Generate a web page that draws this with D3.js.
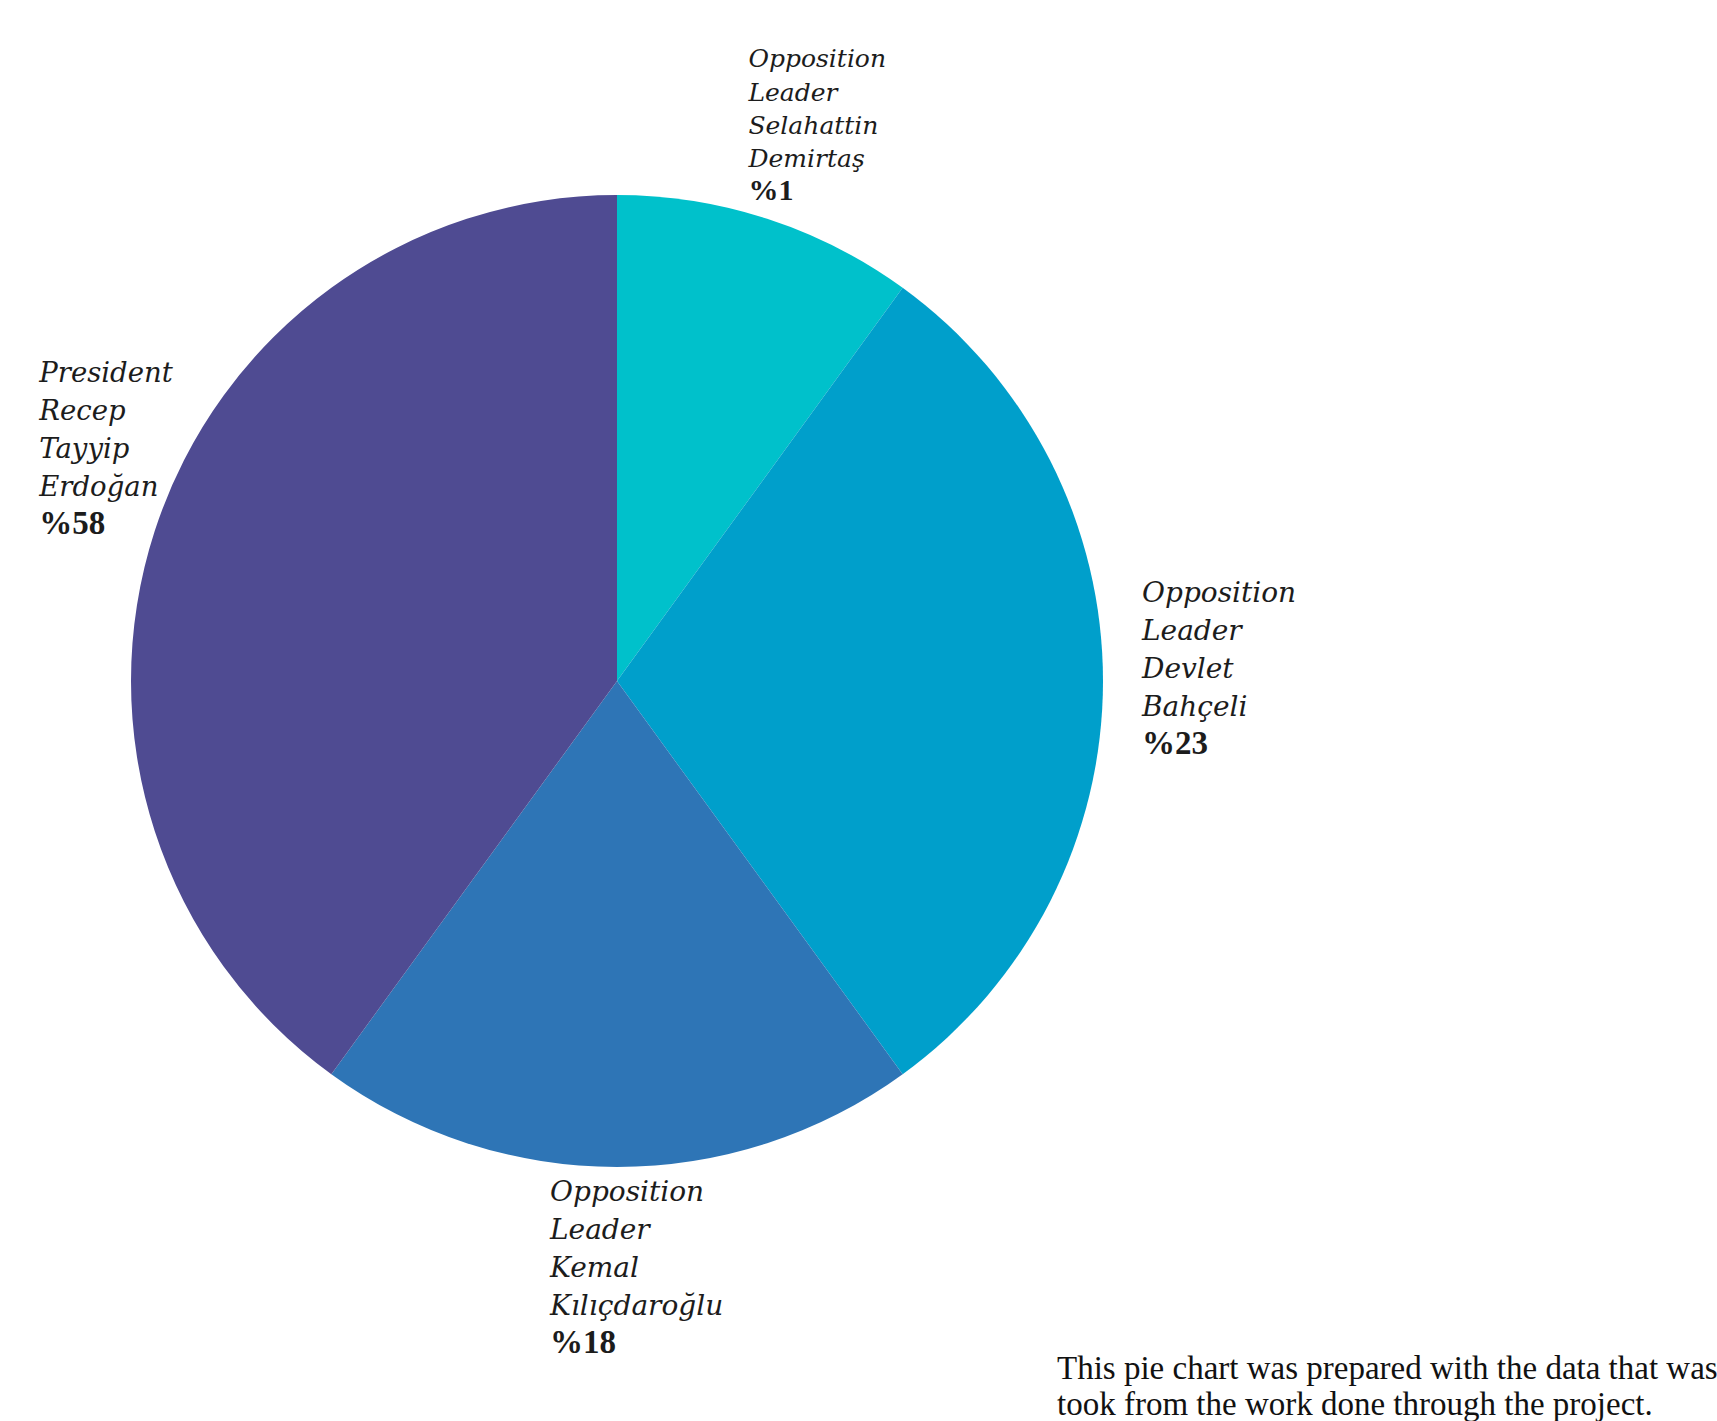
<!DOCTYPE html>
<html>
<head>
<meta charset="utf-8">
<script src="https://cdn.jsdelivr.net/npm/d3@7"></script>
<style>
  body { margin: 0; background: #fff; }
  svg { display: block; }
</style>
</head>
<body>
<script>
// slice data as drawn in the picture
var names = [
    ["Opposition", "Leader", "Selahattin", "Demirtaş"],
    ["Opposition", "Leader", "Devlet", "Bahçeli"],
    ["Opposition", "Leader", "Kemal", "Kılıçdaroğlu"],
    ["President", "Recep", "Tayyip", "Erdoğan"]
];
var shares = [10, 30, 20, 40];
var percentLabels = ["%1", "%23", "%18", "%58"];
var colors = ["#00c1cb", "#009fcb", "#2e75b6", "#4f4b92"];

var footnote = [
    "This pie chart was prepared with the data that was",
    "took from the work done through the project."
];

// label block placement relative to a point just outside each slice
var labelLayout = [
    {dx: -28, dy: -123, size: 25, bold: 30, lead: 33.3},
    {dx: 9,   dy: -79,  size: 28, bold: 33, lead: 38},
    {dx: -67, dy: 4,    size: 28, bold: 33, lead: 38},
    {dx: -87, dy: -140, size: 27.5, bold: 33, lead: 38}
];

var width = 1717, height = 1421;
var cx = 617, cy = 681, radius = 486;

var svg = d3.select("body")
            .append("svg")
            .attr("width", width)
            .attr("height", height);

var g = svg.append("g")
           .attr("transform", "translate(" + cx + "," + cy + ")");

var pie = d3.pie().sort(null).value(function(d){ return d; });
var arc = d3.arc().innerRadius(0).outerRadius(radius);
var outer = d3.arc().innerRadius(radius + 30).outerRadius(radius + 30);

var slices = pie(shares);

g.selectAll("path.slice")
 .data(slices)
 .enter()
 .append("path")
 .attr("class", "slice")
 .attr("d", arc)
 .attr("fill", function(d, i){ return colors[i]; });

// labels
var labels = g.selectAll("text.label")
              .data(slices)
              .enter()
              .append("text")
              .attr("class", "label")
              .attr("fill", "#1c1c1c")
              .attr("transform", function(d, i){
                  var p = outer.centroid(d);
                  var l = labelLayout[i];
                  return "translate(" + (p[0] + l.dx) + "," + (p[1] + l.dy) + ")";
              });

labels.each(function(d, i){
    var t = d3.select(this);
    var l = labelLayout[i];
    names[i].forEach(function(line, j){
        t.append("tspan")
         .attr("x", 0)
         .attr("y", j * l.lead)
         .style("font-family", "'DejaVu Serif', serif")
         .style("font-style", "italic")
         .style("font-size", l.size + "px")
         .text(line);
    });
    t.append("tspan")
     .attr("x", 0)
     .attr("y", names[i].length * l.lead)
     .style("font-family", "'Liberation Serif', 'Times New Roman', serif")
     .style("font-weight", "bold")
     .style("font-size", l.bold + "px")
     .text(percentLabels[i]);
});

// note at the bottom right
svg.append("text")
   .attr("fill", "#111")
   .style("font-family", "'Liberation Serif', 'Times New Roman', serif")
   .style("font-size", "33px")
   .selectAll("tspan")
   .data(footnote)
   .enter()
   .append("tspan")
   .attr("x", 1057)
   .attr("y", function(d, i){ return 1379 + i * 36; })
   .text(function(d){ return d; });
</script>
</body>
</html>
